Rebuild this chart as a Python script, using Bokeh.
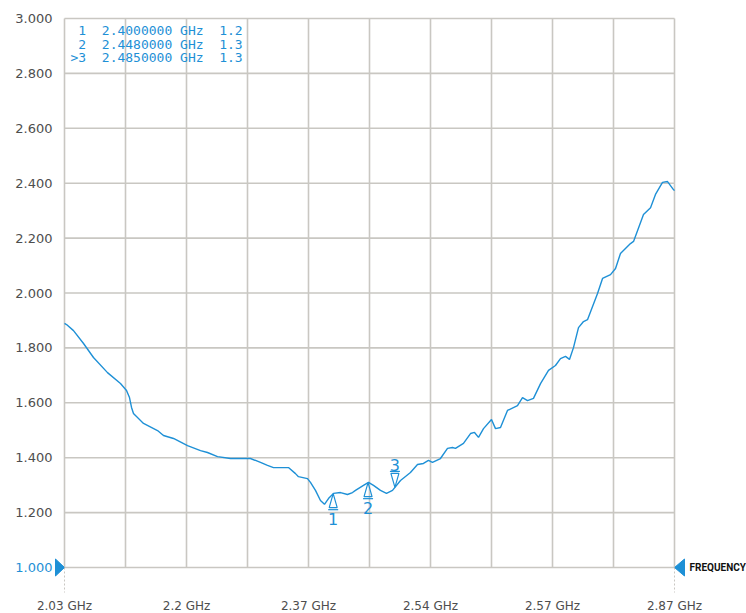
import numpy as np
from bokeh.plotting import figure
from bokeh.models import Range1d
from bokeh.embed import file_html
from bokeh.resources import INLINE
from bokeh.core.properties import value

# ---- data ----
freq_ghz = [2.0300, 2.0328, 2.0424, 2.0562, 2.0699, 2.0892, 2.1071, 2.1154, 2.1195, 2.1223,
            2.1250, 2.1388, 2.1581, 2.1663, 2.1801, 2.1994, 2.2173, 2.2269, 2.2407, 2.2586,
            2.2861, 2.2999, 2.3095, 2.3178, 2.3384, 2.3481, 2.3522, 2.3646, 2.3687, 2.3756,
            2.3825, 2.3880, 2.3935, 2.4004, 2.4101, 2.4197, 2.4266, 2.4307, 2.4417, 2.4486,
            2.4555, 2.4651, 2.4734, 2.4817, 2.4927, 2.5064, 2.5161, 2.5243, 2.5312, 2.5367,
            2.5477, 2.5574, 2.5643, 2.5684, 2.5794, 2.5891, 2.5946, 2.6001, 2.6070, 2.6180,
            2.6235, 2.6304, 2.6400, 2.6538, 2.6607, 2.6676, 2.6758, 2.6855, 2.6965, 2.7061,
            2.7130, 2.7199, 2.7254, 2.7309, 2.7378, 2.7447, 2.7502, 2.7640, 2.7709, 2.7819,
            2.7888, 2.7956, 2.8094, 2.8136, 2.8273, 2.8370, 2.8438, 2.8535, 2.8604, 2.8673,
            2.8700]
vswr = [1.889, 1.885, 1.863, 1.816, 1.765, 1.710, 1.670, 1.645, 1.619, 1.583,
        1.561, 1.525, 1.499, 1.481, 1.470, 1.444, 1.426, 1.419, 1.404, 1.397,
        1.397, 1.383, 1.372, 1.364, 1.364, 1.342, 1.331, 1.324, 1.310, 1.281,
        1.244, 1.230, 1.251, 1.270, 1.273, 1.266, 1.273, 1.281, 1.299, 1.310,
        1.299, 1.281, 1.270, 1.281, 1.317, 1.346, 1.375, 1.379, 1.390, 1.383,
        1.397, 1.434, 1.437, 1.434, 1.452, 1.488, 1.492, 1.474, 1.506, 1.539,
        1.506, 1.510, 1.572, 1.590, 1.619, 1.608, 1.616, 1.670, 1.718, 1.736,
        1.761, 1.769, 1.758, 1.801, 1.874, 1.896, 1.903, 1.998, 2.053, 2.067,
        2.089, 2.144, 2.180, 2.188, 2.286, 2.311, 2.359, 2.403, 2.406, 2.381,
        2.373]

marker_ids = ["1", "2", "3"]
marker_freq = [2.400, 2.448, 2.485]
marker_dir = [1, 1, -1]          # 1: triangle below trace, -1: inverted above
marker_table = [" 1  2.4000000 GHz  1.2",
                " 2  2.4480000 GHz  1.3",
                ">3  2.4850000 GHz  1.3"]

x_tick_pos = [2.03, 2.198, 2.366, 2.534, 2.702, 2.87]
x_tick_labels = ["2.03 GHz", "2.2 GHz", "2.37 GHz", "2.54 GHz", "2.57 GHz", "2.87 GHz"]
x_grid_pos = [2.030, 2.114, 2.198, 2.282, 2.366, 2.450, 2.534, 2.618, 2.702, 2.786, 2.870]
y_tick_pos = [1.2, 1.4, 1.6, 1.8, 2.0, 2.2, 2.4, 2.6, 2.8, 3.0]
ref_level = 1.0
x_axis_name = "FREQUENCY"

X0, X1 = 2.03, 2.87
Y0, Y1 = 1.0, 3.0

BLUE = "#1e90d6"
GRID = "#c9c7c2"
LABEL = "#4e4e4e"

# canvas / plot-area geometry (pixels)
W, H = 746, 613
ML, MR, MT, MB = 64, 72, 18, 46
FW, FH = W - ML - MR, H - MT - MB
DX = (X1 - X0) / FW
DY = (Y1 - Y0) / FH

p = figure(width=W, height=H,
           x_range=Range1d(X0 - ML * DX, X1 + MR * DX),
           y_range=Range1d(Y0 - MB * DY, Y1 + MT * DY),
           x_axis_location=None, y_axis_location=None,
           output_backend="svg", toolbar_location=None,
           min_border=0)
p.outline_line_color = None
p.background_fill_color = "white"
p.xgrid.visible = False
p.ygrid.visible = False

# grid lines bounded to the plot area
gy = [ref_level] + y_tick_pos
p.segment(x0=x_grid_pos, y0=[Y0] * len(x_grid_pos), x1=x_grid_pos, y1=[Y1] * len(x_grid_pos),
          line_color=GRID, line_width=1.6)
p.segment(x0=[X0] * len(gy), y0=gy, x1=[X1] * len(gy), y1=gy,
          line_color=GRID, line_width=1.6)

# tick labels
p.text(x=[X0] * len(y_tick_pos), y=y_tick_pos, text=["%.3f" % v for v in y_tick_pos],
       x_offset=-12, text_align="right", text_baseline="middle",
       text_font=value("DejaVu Sans"), text_font_size="13px", text_color=LABEL)
p.text(x=x_tick_pos, y=[Y0] * len(x_tick_pos), text=x_tick_labels,
       y_offset=38, text_align="center", text_baseline="middle",
       text_font=value("DejaVu Sans"), text_font_size="12px", text_color=LABEL)

# reference level label and axis end markers
p.text(x=[X0], y=[ref_level], text=["%.3f" % ref_level], x_offset=-12,
       text_align="right", text_baseline="middle",
       text_font=value("DejaVu Sans"), text_font_size="13px", text_color=BLUE)
p.patches([[X0 - 9 * DX, X0, X0 - 9 * DX], [X1 + 10 * DX, X1, X1 + 10 * DX]],
          [[ref_level + 8.5 * DY, ref_level, ref_level - 8.5 * DY]] * 2,
          fill_color=BLUE, line_color=BLUE, line_width=1)
p.segment(x0=[X0, X1], y0=[Y0, Y0], x1=[X0, X1], y1=[Y0 - 25 * DY] * 2,
          line_color=GRID, line_width=1, line_dash="2 2")
p.text(x=[X1], y=[ref_level], text=[x_axis_name], x_offset=15,
       text_align="left", text_baseline="middle",
       text_font=value("Roboto"), text_font_style="bold", text_font_size="10px",
       text_color="#111111")

# trace
p.line(freq_ghz, vswr, line_color=BLUE, line_width=1.4)

# marker table (non-breaking spaces keep the column spacing in SVG)
p.text(x=[X0] * 3, y=[Y1] * 3, text=[s.replace(" ", "\u00a0") for s in marker_table],
       x_offset=6, y_offset=[12, 25.5, 39],
       text_font=value("DejaVu Sans Mono"), text_font_size="13px", text_color=BLUE,
       text_baseline="middle", text_align="left")

# markers on trace
mv = np.interp(marker_freq, freq_ghz, vswr)
tri_xs, tri_ys, bar_x0, bar_x1, bar_y, lab_off = [], [], [], [], [], []
for f, v, d in zip(marker_freq, mv, marker_dir):
    tri_xs.append([f - 4 * DX, f, f + 4 * DX])
    tri_ys.append([v - d * 14 * DY, v, v - d * 14 * DY])
    bar_x0.append(f - 5 * DX)
    bar_x1.append(f + 5 * DX)
    bar_y.append(v - d * 16 * DY)
    lab_off.append(25 if d > 0 else -22)
p.patches(tri_xs, tri_ys, fill_color=None, line_color=BLUE, line_width=1.2)
p.segment(x0=bar_x0, y0=bar_y, x1=bar_x1, y1=bar_y, line_color=BLUE, line_width=1.2)
p.text(x=marker_freq, y=list(mv), text=marker_ids, y_offset=lab_off,
       text_font=value("DejaVu Sans"), text_font_size="16px", text_color=BLUE,
       text_align="center", text_baseline="middle")

open("out.html", "w").write(file_html(p, INLINE))
